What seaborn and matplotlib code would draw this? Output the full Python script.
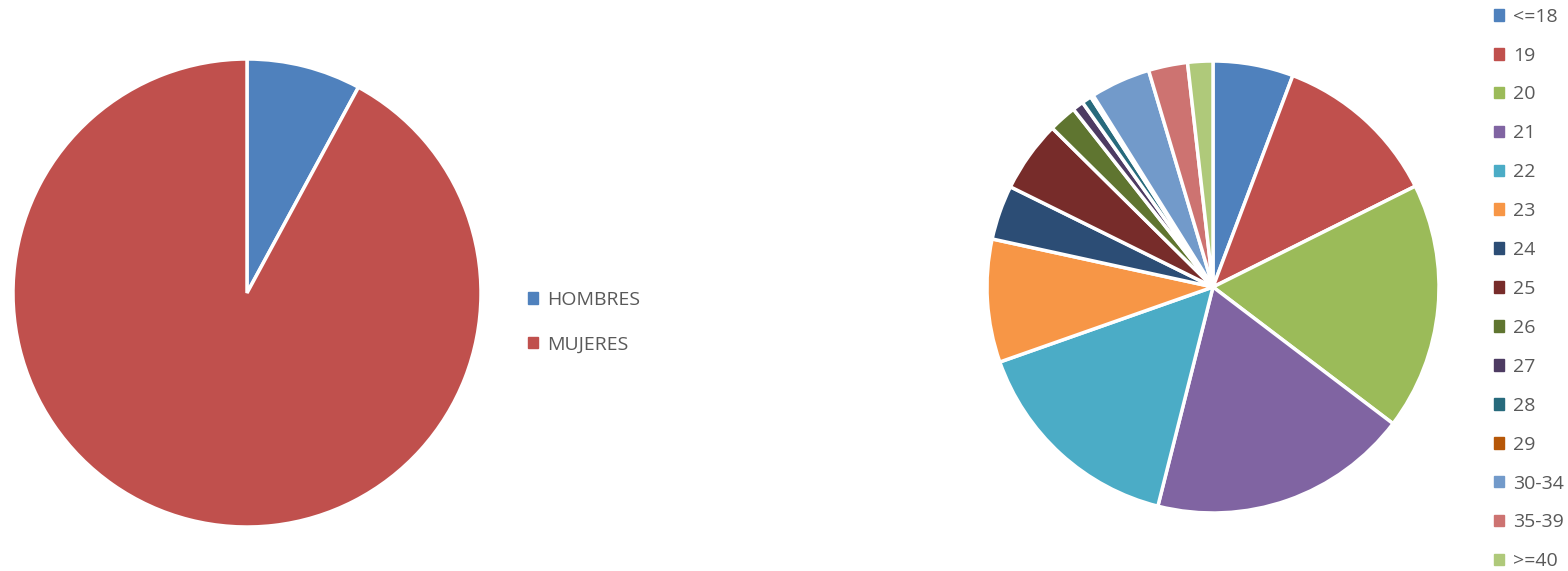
import matplotlib
matplotlib.use("Agg")
import matplotlib.pyplot as plt
import matplotlib.patches as mpatches
import seaborn as sns

sns.set_theme(style="white")
plt.rcParams['font.family'] = ['Open Sans', 'DejaVu Sans']

# datos sexo
sexo = ['HOMBRES', 'MUJERES']
sexo_vals = [7.9, 92.1]
sexo_cols = ['#4F81BD', '#C0504D']

# datos edad
edades = ['<=18', '19', '20', '21', '22', '23', '24', '25', '26', '27',
          '28', '29', '30-34', '35-39', '>=40']
edad_vals = [5.75, 11.9, 17.7, 18.6, 15.7, 8.8, 3.9, 5.1, 2.0, 0.8,
             0.7, 0.2, 4.3, 2.8, 1.8]
edad_cols = ['#4F81BD', '#C0504D', '#9BBB59', '#8064A2', '#4BACC6', '#F79646',
             '#2C4D75', '#772C2A', '#5F7530', '#4D3B62', '#276A7C', '#B65708',
             '#729ACA', '#CD7371', '#AFC97A']

fig = plt.figure(figsize=(15.68, 5.71), dpi=100)
txt = '#595959'

# ---- pie izquierdo
ax1 = fig.add_axes([13/1568, 44/571, 468/1568, 468/571])
ax1.pie(sexo_vals, colors=sexo_cols, startangle=90, counterclock=False,
        wedgeprops=dict(edgecolor='white', linewidth=2.5))
ax1.set_aspect('equal')
ax1.set_xlim(-1.0, 1.0)
ax1.set_ylim(-1.0, 1.0)
h1 = [mpatches.Patch(color=c, label=l) for c, l in zip(sexo_cols, sexo)]
fig.legend(handles=h1, loc='center left', bbox_to_anchor=(510/1568, 1 - 322/571),
           frameon=False, fontsize=14, labelcolor=txt, handlelength=0.55,
           handleheight=0.55, handletextpad=0.45, labelspacing=1.38)

# ---- pie derecho
ax2 = fig.add_axes([987/1568, 58/571, 452/1568, 452/571])
ax2.pie(edad_vals, colors=edad_cols, startangle=90, counterclock=False,
        wedgeprops=dict(edgecolor='white', linewidth=2.5))
ax2.set_aspect('equal')
ax2.set_xlim(-1.0, 1.0)
ax2.set_ylim(-1.0, 1.0)
h2 = [mpatches.Patch(color=c, label=l) for c, l in zip(edad_cols, edades)]
fig.legend(handles=h2, loc='center left', bbox_to_anchor=(1476/1568, 1 - 289/571),
           frameon=False, fontsize=14, labelcolor=txt, handlelength=0.55,
           handleheight=0.55, handletextpad=0.45, labelspacing=1.075)

fig.savefig('out.png', dpi=100)
